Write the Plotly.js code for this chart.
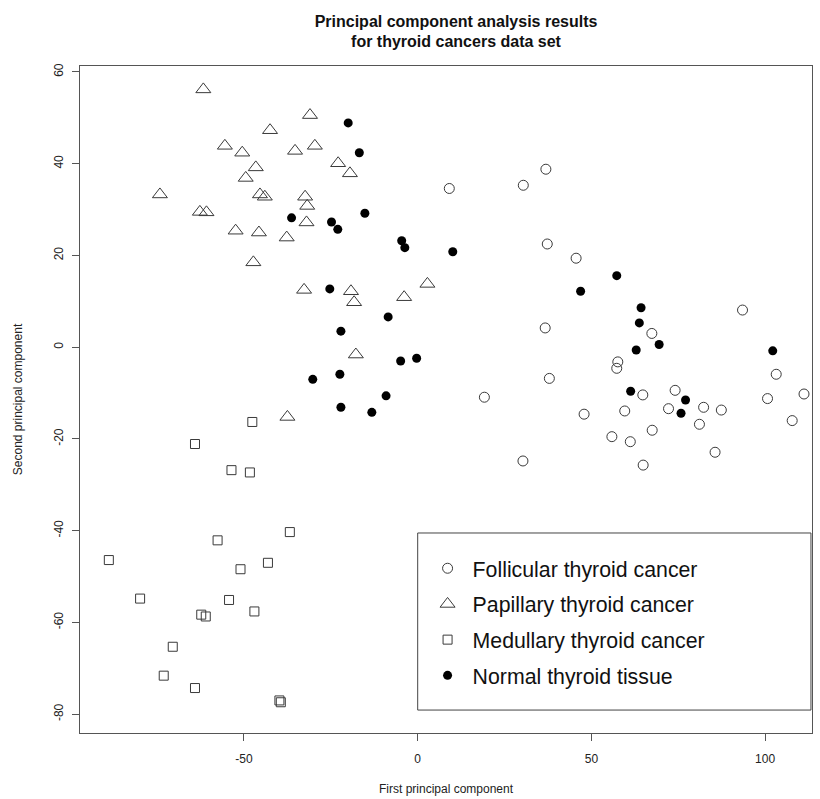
<!DOCTYPE html>
<html>
<head>
<meta charset="utf-8">
<script src="https://cdn.plot.ly/plotly-3.0.1.min.js"></script>
<style>html,body{margin:0;padding:0;background:#fff;}</style>
</head>
<body>
<div id="chart" style="width:820px;height:799px;"></div>
<script>
// Follicular thyroid cancer
var follicularX = [9.1, 30.4, 36.9, 37.3, 45.6, 93.5, 36.7, 67.4, 57.6, 57.3, 37.9, 103.2, 19.2, 64.8, 74.1, 100.7, 111.2, 59.6, 72.2, 82.3, 87.4, 47.9, 81.1, 107.8, 55.9, 67.5, 61.2, 85.6, 30.3, 64.9];
var follicularY = [34.6, 35.3, 38.8, 22.5, 19.4, 8.1, 4.2, 3.0, -3.2, -4.6, -6.8, -5.9, -10.9, -10.4, -9.4, -11.2, -10.2, -13.9, -13.4, -13.1, -13.7, -14.6, -16.8, -16.0, -19.5, -18.1, -20.6, -22.9, -24.8, -25.7];
// Papillary thyroid cancer
var papillaryX = [-61.7, -31.0, -42.5, -55.5, -50.5, -35.3, -29.6, -22.9, -19.5, -46.6, -49.5, -74.2, -45.4, -44.0, -32.4, -31.8, -62.7, -60.8, -32.0, -52.4, -45.7, -37.7, -47.3, -32.7, -19.2, -18.3, 2.8, -3.9, -17.8, -37.5];
var papillaryY = [56.2, 50.6, 47.3, 43.9, 42.4, 42.8, 43.9, 40.1, 37.9, 39.2, 36.9, 33.3, 33.3, 32.8, 32.8, 30.8, 29.5, 29.4, 27.2, 25.4, 25.0, 23.9, 18.5, 12.5, 12.2, 9.8, 13.8, 10.9, -1.6, -15.2];
// Medullary thyroid cancer
var medullaryX = [-47.6, -64.1, -53.6, -48.3, -36.8, -57.6, -88.9, -51.0, -43.1, -79.9, -54.3, -47.0, -62.3, -61.0, -70.5, -73.1, -64.1, -39.8, -39.4];
var medullaryY = [-16.3, -21.1, -26.8, -27.3, -40.3, -42.1, -46.4, -48.4, -47.0, -54.8, -55.1, -57.6, -58.3, -58.7, -65.3, -71.6, -74.3, -77.0, -77.4];
// Normal thyroid tissue
var normalX = [-20.0, -16.8, -36.3, -24.8, -23.0, -15.2, -4.6, -3.7, 10.1, -25.3, -8.5, -22.1, -4.9, -0.3, -30.2, -22.4, -9.1, -22.1, -13.2, 57.3, 46.9, 64.3, 63.8, 69.5, 62.9, 102.2, 61.3, 77.1, 75.8];
var normalY = [48.9, 42.4, 28.2, 27.3, 25.7, 29.2, 23.2, 21.7, 20.8, 12.7, 6.6, 3.5, -3.0, -2.4, -7.0, -5.9, -10.6, -13.1, -14.2, 15.6, 12.2, 8.6, 5.3, 0.6, -0.6, -0.8, -9.6, -11.5, -14.4];

var seriesNames = ["Follicular thyroid cancer", "Papillary thyroid cancer", "Medullary thyroid cancer", "Normal thyroid tissue"];
var xTicks = [-50, 0, 50, 100];
var yTicks = [-80, -60, -40, -20, 0, 20, 40, 60];

var edge = '#3a3a3a';
var traces = [
  {x: follicularX, y: follicularY, name: seriesNames[0], legendgroup: 'g1', type: 'scatter', mode: 'markers',
   marker: {symbol: 'circle-open', size: 10, color: edge, line: {color: edge, width: 1}}},
  {x: papillaryX, y: papillaryY, name: seriesNames[1], legendgroup: 'g2', type: 'scatter', mode: 'markers',
   marker: {symbol: 'triangle-up-open', size: 13, color: edge, line: {color: edge, width: 1}}},
  {x: medullaryX, y: medullaryY, name: seriesNames[2], legendgroup: 'g3', type: 'scatter', mode: 'markers',
   marker: {symbol: 'square-open', size: 9, color: edge, line: {color: edge, width: 1}}},
  {x: normalX, y: normalY, name: seriesNames[3], legendgroup: 'g4', type: 'scatter', mode: 'markers',
   marker: {symbol: 'circle', size: 9, color: '#000'}}
];

var axisFont = {family: 'Liberation Sans Narrow, Liberation Sans, Arial, sans-serif', size: 12, color: '#222'};
var layout = {
  width: 820, height: 799,
  margin: {l: 80, r: 8, t: 66, b: 66},
  paper_bgcolor: '#fff', plot_bgcolor: '#fff',
  showlegend: true,
  title: {text: 'Principal component analysis results<br>for thyroid cancers data set',
          font: {family: 'Liberation Sans, Arial, sans-serif', size: 16, color: '#111', weight: 'bold'},
          xref: 'paper', x: 0.5137, xanchor: 'center', yref: 'container', y: 0.9667, yanchor: 'top'},
  xaxis: {range: [-97.2, 113.5], tickvals: xTicks, ticktext: xTicks.map(String), ticks: 'outside', ticklen: 7,
          tickcolor: '#555', showline: true, mirror: true, linecolor: '#555', linewidth: 1,
          showgrid: false, zeroline: false, tickfont: axisFont, ticklabelstandoff: 8,
          title: {text: 'First principal component', font: axisFont, standoff: 19}},
  yaxis: {range: [-84.1, 61.3], tickvals: yTicks, ticktext: yTicks.map(String), ticks: 'outside', ticklen: 7,
          tickcolor: '#555', showline: true, mirror: true, linecolor: '#555', linewidth: 1, tickangle: -90,
          showgrid: false, zeroline: false, tickfont: axisFont, ticklabelstandoff: 4,
          title: {text: 'Second principal component', font: axisFont, standoff: 27}},
  legend: {x: 0.468, xanchor: 'left', y: 0.2775, yanchor: 'top', bgcolor: 'rgba(0,0,0,0)', borderwidth: 0,
           traceorder: 'grouped', tracegroupgap: 5, itemwidth: 40,
           font: {family: 'Liberation Sans, Arial, sans-serif', size: 21.3, color: '#111'}},
  shapes: [{type: 'rect', xref: 'x', yref: 'y', x0: 0, x1: 113.2, y0: -79.1, y1: -40.5,
            line: {color: '#444', width: 1}, fillcolor: 'rgba(0,0,0,0)'}]
};

Plotly.newPlot('chart', traces, layout, {displayModeBar: false, staticPlot: true});
</script>
</body>
</html>
